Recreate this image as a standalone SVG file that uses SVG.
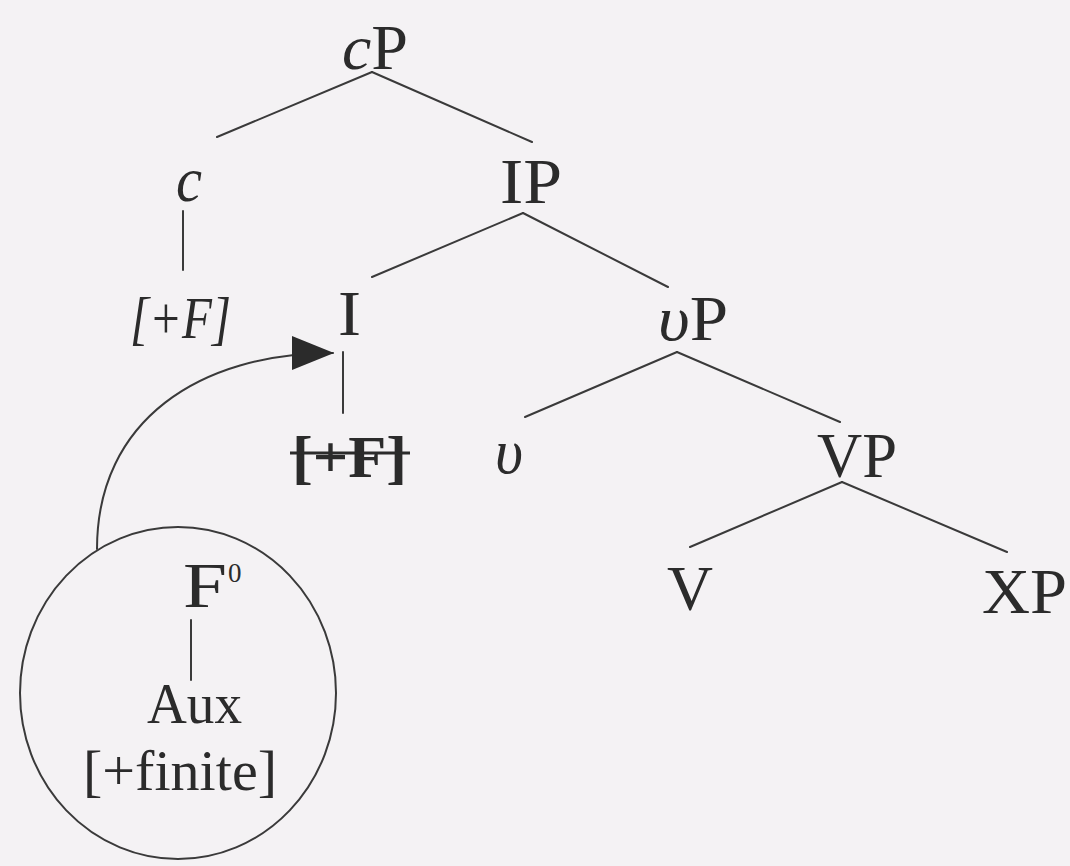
<svg xmlns="http://www.w3.org/2000/svg" width="1070" height="866" viewBox="0 0 1070 866">
<defs>
<style>
.lbl{font-family:"Liberation Serif","Times New Roman",serif;font-size:64px;fill:#2b2b2b}
.sm{font-size:56px}
.f60{font-size:60px}
.sup{font-size:27px}
.it{font-style:italic}
.bd{font-weight:bold}
.edge{stroke:#3a3a3a;stroke-width:2;fill:none;stroke-linecap:round}
</style>
<marker id="ah" markerUnits="userSpaceOnUse" viewBox="0 0 42 34" markerWidth="42" markerHeight="34" refX="41" refY="17" orient="auto">
<path d="M0,0 L42,17 L0,34 z" fill="#2b2b2b"/>
</marker>
</defs>
<rect width="1070" height="866" fill="#f4f2f4"/>
<g id="connectors">
<line class="edge" x1="372" y1="72" x2="217" y2="137"/>
<line class="edge" x1="372" y1="72" x2="532" y2="142"/>
<line class="edge" x1="183" y1="211" x2="183" y2="270"/>
<line class="edge" x1="523" y1="213" x2="372" y2="277"/>
<line class="edge" x1="523" y1="213" x2="668" y2="287"/>
<line class="edge" x1="343" y1="352" x2="343" y2="413"/>
<line class="edge" x1="677" y1="352" x2="525" y2="417"/>
<line class="edge" x1="677" y1="352" x2="840" y2="422"/>
<line class="edge" x1="842" y1="482" x2="690" y2="547"/>
<line class="edge" x1="842" y1="482" x2="1007" y2="552"/>
<line class="edge" x1="191" y1="620" x2="191" y2="680"/>
<path class="edge" d="M97,549 C97,420 200,353 333,353" marker-end="url(#ah)"/>
</g>
<g id="cP"><text class="lbl" x="342" y="69" textLength="66" lengthAdjust="spacingAndGlyphs"><tspan class="it">c</tspan>P</text></g>
<g id="c"><text class="lbl it" x="176" y="201" textLength="26" lengthAdjust="spacingAndGlyphs">c</text></g>
<g id="cF"><text class="lbl it f60" x="130" y="338" textLength="101" lengthAdjust="spacingAndGlyphs">[+F]</text></g>
<g id="IP"><text class="lbl" x="500" y="203" textLength="62" lengthAdjust="spacingAndGlyphs">IP</text></g>
<g id="I"><text class="lbl" x="338" y="335" textLength="23" lengthAdjust="spacingAndGlyphs">I</text></g>
<g id="IF"><text class="lbl f60 bd" x="292" y="477" textLength="115" lengthAdjust="spacingAndGlyphs">[+F]</text>
<line x1="290" y1="453" x2="410" y2="453" stroke="#2b2b2b" stroke-width="3"/></g>
<g id="vP"><text class="lbl" x="658" y="340" textLength="70" lengthAdjust="spacingAndGlyphs"><tspan class="it">υ</tspan>P</text></g>
<g id="v"><text class="lbl it" x="495" y="473" textLength="28" lengthAdjust="spacingAndGlyphs">υ</text></g>
<g id="VP"><text class="lbl" x="817" y="477" textLength="80" lengthAdjust="spacingAndGlyphs">VP</text></g>
<g id="V"><text class="lbl" x="667" y="610" textLength="46" lengthAdjust="spacingAndGlyphs">V</text></g>
<g id="XP"><text class="lbl" x="982" y="613" textLength="85" lengthAdjust="spacingAndGlyphs">XP</text></g>
<g id="F0">
<ellipse cx="178" cy="693" rx="158" ry="166" fill="none" stroke="#3a3a3a" stroke-width="2"/>
<text class="lbl" x="183" y="607" textLength="44" lengthAdjust="spacingAndGlyphs">F</text>
<text class="lbl sup" x="228" y="582">0</text>
<text class="lbl sm" x="147" y="723" textLength="95" lengthAdjust="spacingAndGlyphs">Aux</text>
<text class="lbl sm" x="83" y="790" textLength="194" lengthAdjust="spacingAndGlyphs">[+finite]</text>
</g>
</svg>
